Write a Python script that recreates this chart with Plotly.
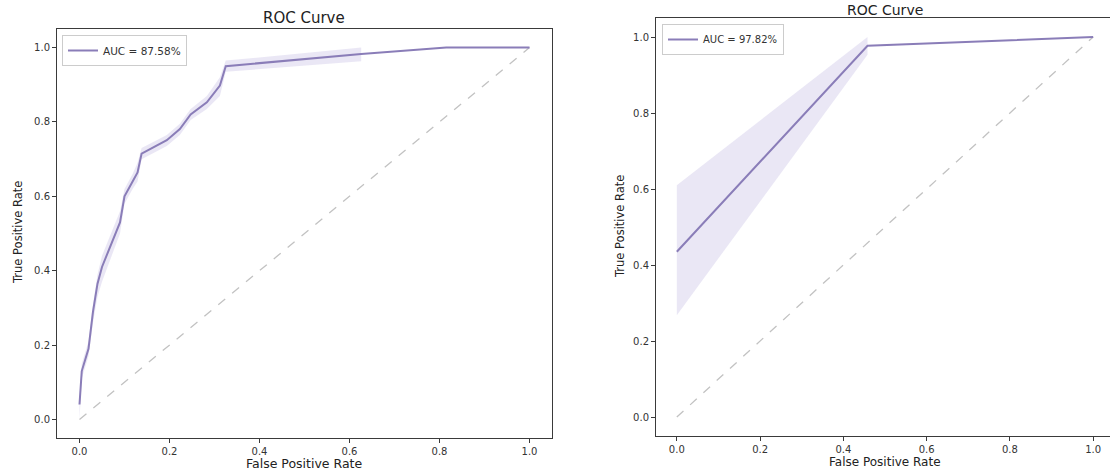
import plotly.graph_objects as go

# ---------------- data ----------------
# Left panel mean ROC curve
left_fpr = [0.0, 0.005, 0.02, 0.03, 0.04, 0.05, 0.09, 0.10, 0.118, 0.129, 0.138,
            0.194, 0.223, 0.247, 0.283, 0.312, 0.325, 0.626, 0.815, 1.0]
left_tpr = [0.04, 0.13, 0.19, 0.29, 0.365, 0.41, 0.53, 0.60, 0.64, 0.664, 0.715,
            0.751, 0.781, 0.82, 0.853, 0.898, 0.95, 0.983, 1.0, 1.0]
# Left panel confidence band
left_band_fpr = [0.0, 0.005, 0.02, 0.03, 0.04, 0.05, 0.09, 0.10, 0.118, 0.129, 0.138,
                 0.194, 0.223, 0.247, 0.283, 0.312, 0.325, 0.626]
left_band_lo = [0.0, 0.11, 0.17, 0.26, 0.33, 0.37, 0.50, 0.58, 0.62, 0.64, 0.70,
                0.735, 0.765, 0.805, 0.835, 0.87, 0.935, 0.963]
left_band_hi = [0.06, 0.15, 0.21, 0.31, 0.39, 0.44, 0.56, 0.62, 0.66, 0.69, 0.73,
                0.765, 0.795, 0.835, 0.87, 0.92, 0.965, 1.0]
left_label = "AUC = 87.58%"

# Right panel mean ROC curve
right_fpr = [0.0, 0.458, 1.0]
right_tpr = [0.435, 0.977, 1.0]
right_band_fpr = [0.0, 0.458]
right_band_lo = [0.268, 0.953]
right_band_hi = [0.61, 1.0]
right_label = "AUC = 97.82%"

chance = [0.0, 1.0]
tick_vals = [0.0, 0.2, 0.4, 0.6, 0.8, 1.0]
tick_text = ["0.0", "0.2", "0.4", "0.6", "0.8", "1.0"]

# ---------------- style ----------------
W, H = 1116, 474   # slightly wider than the window: right frame falls off-screen as in the reference
LINE = "#8a7db8"
FILL = "rgba(160,145,210,0.22)"
DIAG = "#c2c2c2"
FRAME = "#3a3a3a"
FONT = "DejaVu Sans"


def px_x(p):
    return p / W


def px_y(p):
    return 1 - p / H


fig = go.Figure()

# Left panel
fig.add_trace(go.Scatter(x=chance, y=chance, mode="lines",
                         line=dict(color=DIAG, width=1.3, dash="dash"),
                         showlegend=False, xaxis="x", yaxis="y", hoverinfo="skip"))
fig.add_trace(go.Scatter(x=left_band_fpr + left_band_fpr[::-1],
                         y=left_band_hi + left_band_lo[::-1],
                         fill="toself", fillcolor=FILL, mode="lines",
                         line=dict(width=0), showlegend=False,
                         xaxis="x", yaxis="y", hoverinfo="skip"))
fig.add_trace(go.Scatter(x=left_fpr, y=left_tpr, mode="lines",
                         line=dict(color=LINE, width=2), name=left_label,
                         xaxis="x", yaxis="y", legend="legend"))

# Right panel
fig.add_trace(go.Scatter(x=chance, y=chance, mode="lines",
                         line=dict(color=DIAG, width=1.3, dash="dash"),
                         showlegend=False, xaxis="x2", yaxis="y2", hoverinfo="skip"))
fig.add_trace(go.Scatter(x=right_band_fpr + right_band_fpr[::-1],
                         y=right_band_hi + right_band_lo[::-1],
                         fill="toself", fillcolor=FILL, mode="lines",
                         line=dict(width=0), showlegend=False,
                         xaxis="x2", yaxis="y2", hoverinfo="skip"))
fig.add_trace(go.Scatter(x=right_fpr, y=right_tpr, mode="lines",
                         line=dict(color=LINE, width=2), name=right_label,
                         xaxis="x2", yaxis="y2", legend="legend2"))

axis_common = dict(showgrid=False, zeroline=False, showline=True, mirror=True,
                   linecolor=FRAME, linewidth=1, ticks="outside", ticklen=4,
                   tickcolor=FRAME, tickvals=tick_vals, ticktext=tick_text,
                   tickfont=dict(family=FONT, size=10, color="#333333"))

fig.update_layout(
    width=W, height=H,
    margin=dict(l=0, r=0, t=0, b=0),
    paper_bgcolor="white", plot_bgcolor="white",
    font=dict(family=FONT, color="#333333"),
    xaxis=dict(domain=[px_x(57), px_x(552)], range=[-0.05, 1.05], anchor="y", **axis_common),
    yaxis=dict(domain=[px_y(438), px_y(29)], range=[-0.05, 1.05], anchor="x", **axis_common),
    xaxis2=dict(domain=[px_x(656), px_x(1114)], range=[-0.05, 1.05], anchor="y2", **axis_common),
    yaxis2=dict(domain=[px_y(436), px_y(18)], range=[-0.05, 1.05], anchor="x2", **axis_common),
    legend=dict(x=px_x(62), y=px_y(35), xanchor="left", yanchor="top",
                bordercolor="#cccccc", borderwidth=1, bgcolor="rgba(255,255,255,0.8)",
                font=dict(family=FONT, size=10.5, color="#333333"),
                itemwidth=30, tracegroupgap=0),
    legend2=dict(x=px_x(662), y=px_y(24), xanchor="left", yanchor="top",
                 bordercolor="#cccccc", borderwidth=1, bgcolor="rgba(255,255,255,0.8)",
                 font=dict(family=FONT, size=10, color="#333333"),
                 itemwidth=30, tracegroupgap=0),
    annotations=[
        dict(text="ROC Curve", x=px_x(304), y=px_y(18), xref="paper", yref="paper",
             showarrow=False, xanchor="center", yanchor="middle",
             font=dict(family=FONT, size=15, color="#222222")),
        dict(text="ROC Curve", x=px_x(885), y=px_y(9.5), xref="paper", yref="paper",
             showarrow=False, xanchor="center", yanchor="middle",
             font=dict(family=FONT, size=14, color="#222222")),
        dict(text="False Positive Rate", x=px_x(304), y=px_y(463), xref="paper", yref="paper",
             showarrow=False, xanchor="center", yanchor="middle",
             font=dict(family=FONT, size=12.5, color="#222222")),
        dict(text="False Positive Rate", x=px_x(885), y=px_y(462), xref="paper", yref="paper",
             showarrow=False, xanchor="center", yanchor="middle",
             font=dict(family=FONT, size=12, color="#222222")),
        dict(text="True Positive Rate", x=px_x(18), y=px_y(233), xref="paper", yref="paper",
             showarrow=False, xanchor="center", yanchor="middle", textangle=-90,
             font=dict(family=FONT, size=11.5, color="#222222")),
        dict(text="True Positive Rate", x=px_x(620), y=px_y(227), xref="paper", yref="paper",
             showarrow=False, xanchor="center", yanchor="middle", textangle=-90,
             font=dict(family=FONT, size=11.5, color="#222222")),
    ],
)

fig.write_html("out.html",
               config={"displayModeBar": False},
               post_script="document.body.style.margin='0';document.body.style.overflow='hidden';")
